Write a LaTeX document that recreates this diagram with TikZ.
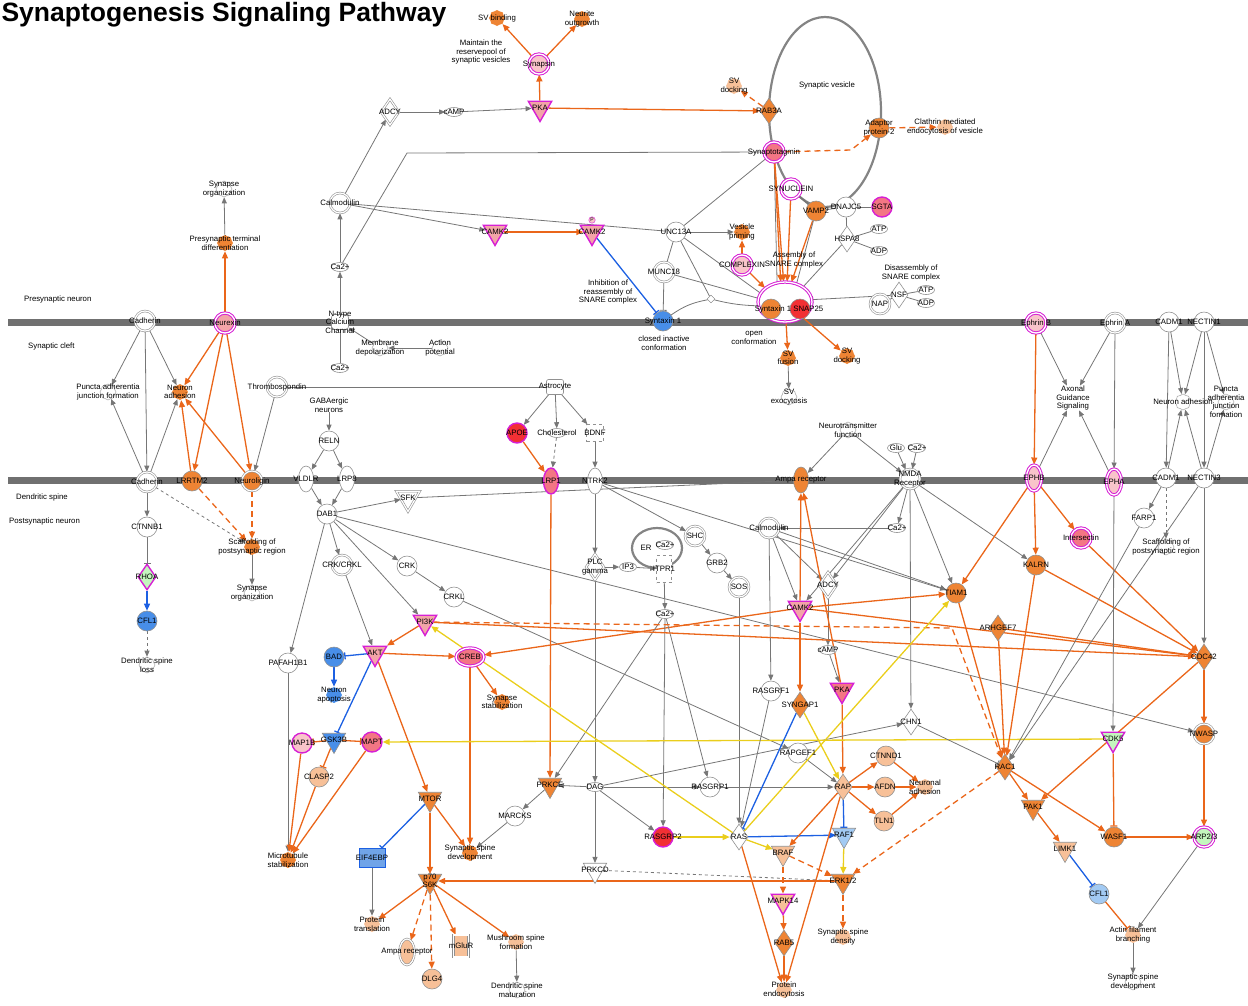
\documentclass[tikz,border=0pt]{standalone}
\usepackage{fontspec}
\setmainfont{Liberation Sans}
\usetikzlibrary{arrows.meta,shapes.geometric,shapes.symbols,shapes.misc}

\definecolor{fo}{RGB}{238,132,52}
\definecolor{flo}{RGB}{247,192,152}
\definecolor{fr}{RGB}{242,48,52}
\definecolor{fp}{RGB}{243,118,132}
\definecolor{flp}{RGB}{249,196,202}
\definecolor{fs}{RGB}{243,164,168}
\definecolor{fb}{RGB}{72,142,232}
\definecolor{fhb}{RGB}{112,164,232}
\definecolor{flb}{RGB}{162,202,243}
\definecolor{fg}{RGB}{196,246,190}
\definecolor{mag}{RGB}{214,32,212}
\definecolor{eorg}{RGB}{234,102,26}
\definecolor{egry}{RGB}{118,118,118}
\definecolor{eblu}{RGB}{28,96,226}
\definecolor{eyel}{RGB}{234,206,28}
\definecolor{mem}{RGB}{112,112,112}

\newcommand{\lbfont}{\fontsize{7.8}{8.6}\selectfont}

\pgfdeclarelayer{back}
\pgfdeclarelayer{edges}
\pgfsetlayers{back,edges,main}

\tikzset{
  lbl/.style={font=\lbfont, align=center, inner sep=0pt},
  note/.style={lbl},
  mol/.style={inner sep=0pt, draw=egry!80, fill=white, line width=0.6pt, label={[lbl]center:#1}},
  gene/.style={mol={#1}, circle, minimum size=20pt},
  dbl/.style={double=white, double distance=1.2pt},
  dgene/.style={gene={#1}, dbl},
  tri/.style={mol={#1}, regular polygon, regular polygon sides=3, shape border rotate=180, minimum size=27pt},
  dia/.style={mol={#1}, diamond, minimum width=18pt, minimum height=26pt},
  rec/.style={mol={#1}, ellipse, minimum width=15pt, minimum height=26pt},
  chem/.style={mol={#1}, ellipse, minimum width=17pt, minimum height=9pt},
  box/.style={mol={#1}, rectangle, minimum width=17pt, minimum height=15pt},
  fn/.style={mol={#1}, cloud, cloud puffs=8, cloud puff arc=110, aspect=1, minimum width=16pt, minimum height=16pt, draw=none, fill=fo},
  wfn/.style={fn={#1}, draw=egry!60, fill=white},
  mg/.style={draw=mag, line width=1.4pt},
  mgd/.style={draw=mag, line width=1pt, double=white, double distance=1.3pt},
  ga/.style={draw=egry, line width=0.8pt, -{Triangle[length=6pt,width=5pt]}},
  gl/.style={draw=egry, line width=0.8pt},
  gi/.style={draw=egry, line width=0.8pt, -{Bar[width=7pt]}},
  oa/.style={draw=eorg, line width=1.3pt, -{Triangle[length=7pt,width=6pt]}},
  oi/.style={draw=eorg, line width=1.3pt, -{Bar[width=7pt]}},
  ba/.style={draw=eblu, line width=1.3pt, -{Triangle[length=7pt,width=6pt]}},
  bi/.style={draw=eblu, line width=1.3pt, -{Bar[width=7pt]}},
  ya/.style={draw=eyel, line width=1.3pt, -{Triangle[length=7pt,width=6pt]}},
  dsh/.style={dash pattern=on 6pt off 4pt}
}

\begin{document}
\begin{tikzpicture}[x=1pt, y=-1pt]
\useasboundingbox (0,0) rectangle (1248,1005);

% membranes and compartments
\begin{pgfonlayer}{back}
  \fill[mem] (8,318.5) rectangle (1248,325.5);
  \fill[mem] (8,476.5) rectangle (1248,483.5);
  \draw[egry!90, line width=2.2pt] (825,112) ellipse [x radius=56pt, y radius=95pt];
  \draw[egry!90, line width=2.2pt] (657,548) ellipse [x radius=25pt, y radius=20pt];
\end{pgfonlayer}

\node[anchor=west, font=\bfseries\fontsize{26.5}{28}\selectfont] (title) at (-2,15) {Synaptogenesis Signaling Pathway};
\node[note, anchor=west] (lpre) at (24,299) {Presynaptic neuron};
\node[note, anchor=west] (lcleft) at (28,346) {Synaptic cleft};
\node[note, anchor=west] (lspine) at (16,497) {Dendritic spine};
\node[note, anchor=west] (lpost) at (9,521) {Postsynaptic neuron};

% presynaptic neuron
\node[wfn={Synapse\\organization}] (sorgA) at (224,189) {};
\node[fn={Presynaptic terminal\\differentiation}] (ptd) at (225,243) {};
\node[fn={SV binding}] (svb) at (497,18) {};
\node[fn={Neurite\\outgrowth}] (nout) at (582,19) {};
\node[note] (rpool) at (481,52) {Maintain the\\reservepool of\\synaptic vesicles};
\node[dgene=Synapsin, mgd, fill=flp] (syn) at (539,64) {};
\node[tri=PKA, mg, fill=fs] (pkaA) at (540,108) {};
\node[dia=ADCY, dbl] (adcyA) at (390,112) {};
\node[chem=cAMP] (campA) at (454,112) {};
\node[dia=RAB3A, fill=fo] (rab3a) at (769,111) {};
\node[fn={SV\\docking}, fill=flo] (svdA) at (734,86) {};
\node[note] (vlab) at (827,85) {Synaptic vesicle};
\node[gene={Adaptor\\protein-2}, fill=fo] (ap2) at (879,128) {};
\node[fn={Clathrin mediated\\endocytosis of vesicle}, fill=flo] (clath) at (945,127) {};
\node[dgene=Synaptotagmin, mgd, fill=fp] (sytg) at (774,152) {};
\node[dgene=Calmodulin] (calmA) at (340,203) {};
\node[tri=CAMK2, mg, fill=fs] (camkA) at (495,232) {};
\node[tri=CAMK2, mg, fill=fs] (camkB) at (592,232) {};
\node[circle, draw=mag, fill=flp, inner sep=0.6pt, font=\fontsize{5}{5}\selectfont] (pmark) at (592,220) {P};
\node[chem=Ca2+] (caA) at (340,267) {};
\node[box={N-type\\Calcium\\Channel}, rounded corners=3pt] (nchan) at (340,322) {};
\node[gene=UNC13A] (unc13) at (676,232) {};
\node[fn={Vesicle\\priming}] (vpr) at (742,232) {};
\node[dgene=SYNUCLEIN, mgd] (synuc) at (791,189) {};
\node[gene=VAMP2, fill=fo] (vamp2) at (816,211) {};
\node[gene=DNAJC5] (dnaj) at (846,207) {};
\node[gene=SGTA, mg, fill=fp] (sgta) at (882,207) {};
\node[dia=HSPA8] (hspa8) at (847,239) {};
\node[chem=ATP] (atpA) at (879,229) {};
\node[chem=ADP] (adpA) at (879,251) {};
\node[dgene=COMPLEXIN, mgd, fill=flp] (cplx) at (742,265) {};
\node[note] (asm) at (794,260) {Assembly of\\SNARE complex};
\node[dgene=MUNC18] (munc) at (664,272) {};
\node[note] (inhre) at (608,292) {Inhibition of\\reassembly of\\SNARE complex};
\node[gene={Syntaxin 1}, fill=fb] (stxB) at (663,321) {};
\node[note] (closed) at (664,343) {closed inactive\\conformation};
\node[ellipse, mgd, fill=white, minimum width=54pt, minimum height=40pt] (snare) at (785,302) {};
\node[gene={}, fill=fo] (stxO) at (771,309) {};
\node[gene={}, fill=fr] (snap) at (800,309) {};
\node[note] (snarelbl) at (789,309) {Syntaxin 1 SNAP25};
\node[note] (open) at (754,338) {open\\conformation};
\node[note] (disasm) at (911,273) {Disassembly of\\SNARE complex};
\node[dia=NSF] (nsf) at (899,295) {};
\node[dgene=NAP] (nap) at (880,304) {};
\node[chem=ATP] (atpB) at (926,290) {};
\node[chem=ADP] (adpB) at (926,303) {};
\node[diamond, draw=egry, fill=white, minimum size=8pt, inner sep=0pt] (jct) at (711,299) {};
\node[fn={SV\\fusion}] (svfus) at (788,358) {};
\node[fn={SV\\docking}] (svdB) at (847,356) {};
\node[wfn={SV\\exocytosis}] (svexo) at (789,397) {};
\node[wfn={Membrane\\depolarization}] (mdep) at (380,348) {};
\node[wfn={Action\\potential}] (apot) at (440,348) {};
\node[chem=Ca2+] (caB) at (340,368) {};
\coordinate (cbend) at (407,153);
\coordinate (sbend) at (851,150);

% presynaptic membrane
\node[dgene=Cadherin] (cadhA) at (145,321) {};
\node[dgene=Neurexin, mgd, fill=fs] (nrxn) at (225,323) {};
\node[dgene={Ephrin B}, mgd, fill=flp] (ephrB) at (1036,323) {};
\node[dgene={Ephrin A}] (ephrA) at (1115,323) {};
\node[gene=CADM1] (cadmA) at (1169,322) {};
\node[gene=NECTIN1] (nect1) at (1204,322) {};

% synaptic cleft
\node[wfn={Puncta adherentia\\junction formation}] (punA) at (108,392) {};
\node[fn={Neuron\\adhesion}] (nadA) at (180,392) {};
\node[dgene=Thrombospondin] (thbs) at (277,387) {};
\node[box=Astrocyte, rounded corners=2pt] (astro) at (555,387) {};
\node[note] (gaba) at (329,405) {GABAergic\\neurons};
\node[gene=APOE, mg, fill=fr] (apoe) at (517,433) {};
\node[chem=Cholesterol] (chol) at (557,433) {};
\node[box=BDNF, dashed, minimum height=17pt] (bdnf) at (595,433) {};
\node[wfn={Neurotransmitter\\function}] (ntf) at (848,430) {};
\node[chem=Glu] (glu) at (896,448) {};
\node[chem=Ca2+] (caC) at (917,448) {};
\node[note] (axon) at (1073,398) {Axonal\\Guidance\\Signaling};
\node[wfn={Neuron adhesion}] (nadB) at (1183,402) {};
\node[wfn={Puncta\\adherentia\\junction\\formation}] (punB) at (1226,402) {};

% postsynaptic membrane
\node[dgene=Cadherin] (cadhB) at (147,482) {};
\node[gene=LRRTM2, fill=fo] (lrrtm) at (192,481) {};
\node[dgene=Neuroligin, fill=fo] (nlgn) at (252,481) {};
\node[rec=VLDLR] (vldlr) at (306,479) {};
\node[rec=LRP8] (lrp8) at (347,479) {};
\node[rec=LRP1, mg, fill=fp] (lrp1) at (551,481) {};
\node[rec=NTRK2] (ntrk2) at (595,481) {};
\node[rec={Ampa receptor}, fill=fo] (ampaA) at (801,480) {};
\node[dgene={NMDA\\Receptor}] (nmda) at (910,479) {};
\node[rec=EPHB, mgd, fill=flp] (ephb) at (1034,478) {};
\node[rec=EPHA, mgd, fill=flp] (epha) at (1114,482) {};
\node[gene=CADM1] (cadmB) at (1166,478) {};
\node[gene=NECTIN3] (nect3) at (1204,478) {};

% postsynaptic neuron
\node[gene=RELN] (reln) at (329,441) {};
\node[gene=DAB1] (dab1) at (327,514) {};
\node[tri=SFK, dbl] (sfk) at (408,498) {};
\node[gene=CTNNB1] (ctnnb) at (147,527) {};
\node[fn={Scaffolding of\\postsynaptic region}] (scafA) at (252,547) {};
\node[dia=RHOA, mg, fill=fg] (rhoa) at (147,577) {};
\node[wfn={Synapse\\organization}] (sorgB) at (252,593) {};
\node[gene=CFL1, fill=fb] (cflA) at (147,621) {};
\node[wfn={Dendritic spine\\loss}] (dsl) at (147,665) {};
\node[gene=PAFAH1B1] (pafah) at (288,663) {};
\node[dgene=CRK/CRKL] (crkcrkl) at (342,565) {};
\node[gene=CRK] (crk) at (407,566) {};
\node[gene=CRKL] (crkl) at (454,597) {};
\node[dia={PLC\\gamma}, dbl] (plcg) at (595,567) {};
\node[chem=IP3] (ip3) at (628,567) {};
\node[note] (erlab) at (646,548) {ER};
\node[chem=Ca2+] (caER) at (665,545) {};
\node[box=ITPR1, dashed, minimum width=15pt, minimum height=27pt] (itpr1) at (664,569) {};
\node[dgene=SHC] (shc) at (695,536) {};
\node[gene=GRB2] (grb2) at (717,563) {};
\node[dgene=SOS] (sos) at (739,587) {};
\node[dgene=Calmodulin] (calmB) at (769,528) {};
\node[chem=Ca2+] (caD) at (897,528) {};
\node[dia=ADCY, dbl] (adcyB) at (828,585) {};
\node[tri=CAMK2, mg, fill=fs] (camkC) at (800,608) {};
\node[chem=Ca2+] (caE) at (665,614) {};
\node[chem=cAMP] (campB) at (828,650) {};
\node[tri=PI3K, mg, fill=fs] (pi3k) at (425,622) {};
\node[tri=AKT, mg, fill=fs] (akt) at (375,653) {};
\node[gene=BAD, fill=fb] (bad) at (334,657) {};
\node[ellipse, mgd, fill=fp, minimum width=28pt, minimum height=18pt, inner sep=0pt, label={[lbl]center:CREB}] (creb) at (470,657) {};
\node[gene=FARP1] (farp1) at (1144,518) {};
\node[wfn={Scaffolding of\\postsynaptic region}] (scafB) at (1166,547) {};
\node[dgene=Intersectin, mgd, fill=fp] (itsn) at (1081,538) {};
\node[gene=KALRN, fill=fo] (kalrn) at (1036,565) {};
\node[gene=TIAM1, fill=fo] (tiam1) at (956,593) {};
\node[dia=ARHGEF7, fill=fo] (arhg) at (998,628) {};
\node[dia=CDC42, fill=fo] (cdc42) at (1204,657) {};
\node[fn={Neuron\\apoptosis}, fill=fb] (napo) at (334,695) {};
\node[fn={Synapse\\stabilization}] (sstab) at (502,702) {};
\node[gene=MAP1B, mg, fill=flp] (map1b) at (302,743) {};
\node[tri=GSK3B, fill=fb] (gsk3b) at (334,740) {};
\node[gene=MAPT, mg, fill=fp] (mapt) at (372,742) {};
\node[gene=CLASP2, fill=flo] (clasp) at (319,777) {};
\node[fn={Microtubule\\stabilization}] (mts) at (288,860) {};
\node[tri=MTOR, fill=fo] (mtor) at (430,799) {};
\node[tri=PRKCE, fill=fo] (prkce) at (550,785) {};
\node[chem=DAG] (dag) at (595,787) {};
\node[gene=MARCKS] (marcks) at (515,816) {};
\node[fn={Synaptic spine\\development}] (ssdA) at (470,853) {};
\node[mol=EIF4EBP, chamfered rectangle, chamfered rectangle xsep=4pt, minimum width=26pt, minimum height=19pt, draw=eblu, fill=fhb] (eif) at (372,858) {};
\node[tri=PRKCD] (prkcd) at (595,870) {};
\node[tri={p70\\S6K}, fill=fo] (p70) at (430,881) {};
\node[fn={Protein\\translation}, fill=flo] (ptr) at (372,924) {};
\node[rec={Ampa receptor}, dbl, fill=flo] (ampaB) at (407,952) {};
\node[box=mGluR, dbl, minimum width=15pt, minimum height=22pt, fill=flo] (mglur) at (461,946) {};
\node[fn={Mushroom spine\\formation}, fill=flo] (mush) at (516,942) {};
\node[gene=DLG4, fill=flo] (dlg4) at (432,979) {};
\node[wfn={Dendritic spine\\maturation}] (dsm) at (517,990) {};
\node[gene=RASGRF1] (rasgrf) at (771,691) {};
\node[dia=SYNGAP1, fill=fo] (syngap) at (800,705) {};
\node[tri=PKA, mg, fill=fp] (pkaB) at (842,690) {};
\node[dia=CHN1] (chn1) at (911,722) {};
\node[gene=RAPGEF1] (rapgef) at (798,753) {};
\node[gene=CTNND1, fill=flo] (ctnnd) at (886,756) {};
\node[gene=RASGRP1] (rasgrp1) at (710,787) {};
\node[dia=RAP, fill=flo] (rap) at (843,787) {};
\node[gene=AFDN, fill=flo] (afdn) at (885,787) {};
\node[fn={Neuronal\\adhesion}, fill=flo] (nadC) at (925,787) {};
\node[gene=TLN1, fill=flo] (tln1) at (884,821) {};
\node[gene=RASGRP2, mg, fill=fr] (rasgrp2) at (663,837) {};
\node[dia=RAS] (ras) at (739,837) {};
\node[tri=RAF1, fill=flb] (raf1) at (844,835) {};
\node[tri=BRAF, fill=flo] (braf) at (783,853) {};
\node[tri=ERK1/2, fill=fo] (erk) at (843,881) {};
\node[tri=MAPK14, mg, fill=flo] (mapk) at (783,901) {};
\node[fn={Synaptic spine\\density}, fill=flo] (ssden) at (843,937) {};
\node[dia=RAB5, fill=fo] (rab5) at (784,943) {};
\node[fn={Protein\\endocytosis}, fill=flo] (pend) at (784,990) {};
\node[tri=CDK5, mg, fill=fg] (cdk5) at (1113,739) {};
\node[dgene=NWASP, fill=fo] (nwasp) at (1204,734) {};
\node[dia=RAC1, fill=fo] (rac1) at (1005,767) {};
\node[tri=PAK1, fill=fo] (pak1) at (1033,807) {};
\node[gene=WASF1, fill=fo] (wasf) at (1114,837) {};
\node[dgene=ARP2/3, mgd, fill=fg] (arp) at (1204,837) {};
\node[tri=LIMK1, fill=flo] (limk) at (1065,849) {};
\node[gene=CFL1, fill=flb] (cflB) at (1099,894) {};
\node[fn={Actin filament\\branching}, fill=flo] (actin) at (1133,935) {};
\node[wfn={Synaptic spine\\development}] (ssdB) at (1133,982) {};
\coordinate (pbend) at (952,628);

\begin{pgfonlayer}{edges}
% presynaptic side
\draw[oa] (nrxn) -- (ptd);
\draw[ga] (ptd) -- (sorgA);
\draw[oa] (pkaA) -- (syn);
\draw[oa] (syn) -- (svb);
\draw[oa] (syn) -- (nout);
\draw[oa] (pkaA) -- (rab3a);
\draw[oa, dsh] (rab3a) -- (svdA);
\draw[ga] (calmA) -- (adcyA);
\draw[ga] (adcyA) -- (campA);
\draw[ga] (campA) -- (pkaA);
\draw[ga] (caA) -- (calmA);
\draw[ga] (nchan) -- (caA);
\draw[gl] (caA) -- (cbend) -- (sytg);
\draw[ga] (calmA) -- (camkA);
\draw[gl] (calmA) -- (unc13);
\draw[oa] (camkA) -- (camkB);
\draw[bi] (camkB) -- (stxB);
\draw[oa, dsh] (sytg) -- (sbend) -- (ap2);
\draw[oa, dsh] (ap2) -- (clath);
\draw[gl] (sytg) -- (unc13);
\draw[gl] (sytg) -- (snare.112);
\draw[oa] (sytg) -- (snare.102);
\draw[oa] (sytg) -- (snare.94);
\draw[oa] (synuc) -- (snare.84);
\draw[oa] (vamp2) -- (snare.72);
\draw[gl, line width=1.6pt] (synuc) -- (vamp2);
\draw[gl] (vamp2) -- (snare.58);
\draw[gl] (dnaj) -- (vamp2);
\draw[gl] (dnaj) -- (sgta);
\draw[gl] (dnaj) -- (hspa8);
\draw[gl] (hspa8) -- (atpA);
\draw[gl] (hspa8) -- (adpA);
\draw[gl] (hspa8) -- (snare.40);
\draw[ga] (unc13) -- (vpr);
\draw[oa] (cplx) -- (vpr);
\draw[oa] (cplx) -- (snare.145);
\draw[gl] (unc13) -- (munc);
\draw[gl] (unc13) -- (snare.160);
\draw[gl] (unc13) -- (jct);
\draw[gi] (munc) -- (stxB);
\draw[gl] (munc) -- (snare.172);
\draw[gl] (stxB) to[bend left=12] (jct);
\draw[gl] (jct) to[bend right=6] (snare.188);
\draw[oa] (snare) -- (svfus);
\draw[oa] (snare) -- (svdB);
\draw[ga] (svfus) -- (svexo);
\draw[gi] (nsf) -- (snare.5);
\draw[gl] (nap) -- (nsf);
\draw[gl] (nsf) -- (atpB);
\draw[gl] (nsf) -- (adpB);
\draw[gl] (nchan) -- (caB);
\draw[ga] (mdep) -- (nchan);
\draw[ga] (apot) -- (mdep);
% synaptic cleft
\draw[ga] (cadhA) -- (punA);
\draw[ga] (cadhA) -- (nadA);
\draw[ga] (cadhA) -- (cadhB);
\draw[ga] (cadhB) -- (punA);
\draw[ga] (cadhB) -- (nadA);
\draw[oa] (nrxn) -- (nadA);
\draw[oa] (nrxn) -- (lrrtm);
\draw[oa] (nrxn) -- (nlgn);
\draw[oa] (lrrtm) -- (nadA);
\draw[oa] (nlgn) -- (nadA);
\draw[ga] (thbs) -- (nlgn);
\draw[gl] (thbs) -- (astro);
\draw[ga] (astro) -- (apoe);
\draw[ga] (astro) -- (chol);
\draw[ga] (astro) -- (bdnf);
\draw[oa] (apoe) -- (lrp1);
\draw[ga, dashed] (chol) -- (lrp1);
\draw[ga] (bdnf) -- (ntrk2);
\draw[ga] (gaba) -- (reln);
\draw[ga] (reln) -- (vldlr);
\draw[ga] (reln) -- (lrp8);
\draw[ga] (ntf) -- (ampaA);
\draw[ga] (ntf) -- (nmda);
\draw[ga] (glu) -- (nmda);
\draw[ga] (caC) -- (nmda);
\draw[oa] (ephrB) -- (ephb);
\draw[ga] (ephrB) -- (axon);
\draw[ga] (ephrA) -- (axon);
\draw[ga] (ephrA) -- (epha);
\draw[ga] (ephb) -- (axon);
\draw[ga] (epha) -- (axon);
\draw[ga] (cadmA) -- (cadmB);
\draw[ga] (cadmA) -- (nadB);
\draw[ga] (nect1) -- (nadB);
\draw[ga] (nect1) -- (nect3);
\draw[ga] (nect1) -- (punB);
\draw[ga] (cadmB) -- (nadB);
\draw[ga] (nect3) -- (nadB);
\draw[ga] (nect3) -- (punB);
% postsynaptic side
\draw[ga] (cadhB) -- (ctnnb);
\draw[gi] (ctnnb) -- (rhoa);
\draw[ba] (rhoa) -- (cflA);
\draw[ga, dashed] (cflA) -- (dsl);
\draw[ga, dashed] (cadhB) -- (scafA);
\draw[oa, dsh] (lrrtm) -- (scafA);
\draw[oa, dsh] (nlgn) -- (scafA);
\draw[ga] (scafA) -- (sorgB);
\draw[ga] (vldlr) -- (dab1);
\draw[ga] (lrp8) -- (dab1);
\draw[ga] (dab1) -- (sfk);
\draw[gl] (sfk) -- (ampaA);
\draw[ga] (dab1) -- (crkcrkl);
\draw[ga] (dab1) -- (crk);
\draw[ga] (dab1) -- (pi3k);
\draw[ga] (dab1) -- (pafah);
\draw[ga] (dab1) -- (nwasp);
\draw[ga] (crk) -- (crkl);
\draw[ga] (crkl) -- (rapgef);
\draw[ga] (crkcrkl) -- (akt);
\draw[ga] (pafah) -- (mts);
\draw[ga] (ntrk2) -- (plcg);
\draw[ga] (ntrk2) -- (shc);
\draw[ga] (ntrk2) -- (tiam1);
\draw[ga] (plcg) -- (ip3);
\draw[ga] (ip3) -- (itpr1);
\draw[ga] (itpr1) -- (caE);
\draw[ga] (plcg) -- (dag);
\draw[ga] (shc) -- (grb2);
\draw[ga] (grb2) -- (sos);
\draw[ga] (sos) -- (ras);
\draw[ga] (caD) -- (calmB);
\draw[ga] (nmda) -- (caD);
\draw[ga] (calmB) -- (camkC);
\draw[ga] (calmB) -- (adcyB);
\draw[ga] (calmB) -- (rasgrf);
\draw[ga] (calmB) -- (tiam1);
\draw[ga] (nmda) -- (adcyB);
\draw[ga] (nmda) -- (camkC);
\draw[ga] (nmda) -- (chn1);
\draw[ga] (nmda) -- (kalrn);
\draw[ga] (nmda) -- (tiam1);
\draw[ga] (adcyB) -- (campB);
\draw[ga] (campB) -- (pkaB);
\draw[oa] (camkC) -- (ampaA);
\draw[oa] (pkaB) -- (ampaA);
\draw[oa] (camkC) -- (syngap);
\draw[oa] (camkC) -- (creb);
\draw[oa] (camkC) -- (tiam1);
\draw[oa] (camkC) -- (cdc42);
\draw[oa] (pkaB) -- (rap);
\draw[ga] (caE) -- (rasgrp2);
\draw[ga] (caE) -- (prkce);
\draw[ga] (caE) -- (rasgrp1);
\draw[ga] (dag) -- (prkce);
\draw[ga] (dag) -- (prkcd);
\draw[ga] (dag) -- (rasgrp1);
\draw[ga] (rasgrp1) -- (rap);
\draw[ga] (dag) -- (rasgrp2);
\draw[ga] (dag) -- (chn1);
\draw[oa] (lrp1) -- (prkce);
\draw[ga] (prkce) -- (marcks);
\draw[ga] (marcks) -- (ssdA);
\draw[gl, dashed] (prkcd) -- (erk);
\draw[oa] (pi3k) -- (akt);
\draw[oa] (akt) -- (creb);
\draw[bi] (akt) -- (bad);
\draw[ba] (bad) -- (napo);
\draw[bi] (akt) -- (gsk3b);
\draw[oa] (akt) -- (mtor);
\draw[oa] (pi3k) -- (cdc42);
\draw[oa, dsh] (pi3k) -- (pbend) -- (rac1);
\draw[ya] (ras) -- (pi3k);
\draw[oa] (creb) -- (sstab);
\draw[oa] (creb) -- (ssdA);
\draw[oi] (gsk3b) -- (map1b);
\draw[oi] (gsk3b) -- (mapt);
\draw[oi] (gsk3b) -- (clasp);
\draw[oa] (map1b) -- (mts);
\draw[oa] (clasp) -- (mts);
\draw[oa] (mapt) -- (mts);
\draw[ya] (cdk5) -- (mapt);
\draw[bi] (mtor) -- (eif);
\draw[ga] (eif) -- (ptr);
\draw[oa] (mtor) -- (p70);
\draw[oa] (mtor) -- (ssdA);
\draw[oa] (p70) -- (ptr);
\draw[oa, dsh] (p70) -- (ampaB);
\draw[oa, dsh] (p70) -- (dlg4);
\draw[oa] (p70) -- (mglur);
\draw[oa] (p70) -- (mush);
\draw[ga] (mush) -- (dsm);
\draw[oa] (erk) -- (p70);
\draw[ga] (rasgrf) -- (ras);
\draw[ga] (rapgef) -- (rap);
\draw[bi] (syngap) -- (ras);
\draw[ya] (syngap) -- (rap);
\draw[ya] (rasgrp2) -- (ras);
\draw[ba] (ras) -- (raf1);
\draw[ya] (ras) -- (braf);
\draw[ya] (ras) -- (tiam1);
\draw[oa] (ras) -- (pend);
\draw[bi] (rap) -- (raf1);
\draw[oa] (rap) -- (ctnnd);
\draw[oa] (rap) -- (afdn);
\draw[oa] (rap) -- (tln1);
\draw[oa] (ctnnd) -- (nadC);
\draw[oa] (afdn) -- (nadC);
\draw[oa] (tln1) -- (nadC);
\draw[oa] (rap) -- (braf);
\draw[oa] (rap) -- (pend);
\draw[ya] (raf1) -- (erk);
\draw[oa, dsh] (braf) -- (erk);
\draw[oa, dsh] (braf) -- (mapk);
\draw[oa] (mapk) -- (rab5);
\draw[oa] (rab5) -- (pend);
\draw[oa, dsh] (erk) -- (ssden);
\draw[oa, dsh] (rac1) -- (erk);
\draw[oa] (ephb) -- (tiam1);
\draw[oa] (ephb) -- (kalrn);
\draw[oa] (ephb) -- (itsn);
\draw[oa] (itsn) -- (cdc42);
\draw[oa] (kalrn) -- (cdc42);
\draw[oa] (arhg) -- (cdc42);
\draw[oa] (tiam1) -- (rac1);
\draw[oa] (kalrn) -- (rac1);
\draw[oa] (arhg) -- (rac1);
\draw[ga] (farp1) -- (rac1);
\draw[ga] (nect3) -- (rac1);
\draw[gi] (chn1) -- (rac1);
\draw[ga] (cadmB) -- (farp1);
\draw[ga, dashed] (cadmB) -- (scafB);
\draw[ga] (nect3) -- (cdc42);
\draw[ga] (epha) -- (cdk5);
\draw[oa] (rac1) -- (pak1);
\draw[oa] (rac1) -- (wasf);
\draw[oa] (cdc42) -- (pak1);
\draw[oa] (cdc42) -- (nwasp);
\draw[oi] (cdk5) -- (wasf);
\draw[oa] (wasf) -- (arp);
\draw[oa] (nwasp) -- (arp);
\draw[oa] (pak1) -- (limk);
\draw[bi] (limk) -- (cflB);
\draw[oi] (cflB) -- (actin);
\draw[ga] (arp) -- (actin);
\draw[ga] (actin) -- (ssdB);
\end{pgfonlayer}
\end{tikzpicture}
\end{document}
